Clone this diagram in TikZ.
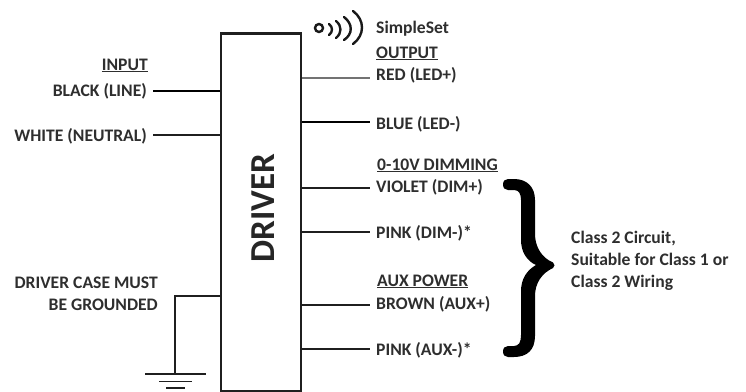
\documentclass[tikz,border=0pt]{standalone}
\usepackage{fontspec}
\setmainfont{Carlito}
\tikzset{
  x=1pt,y=-1pt,
  wire/.style={draw=black!88,line width=1.8pt},
  heavywire/.style={draw=black,line width=2.6pt},
  greywire/.style={draw=black!55,line width=1.8pt},
  lbl/.style={inner sep=0pt,text=black!82,font=\fontsize{17.6}{20}\selectfont\bfseries},
  lw/.style={lbl,anchor=base west},
  le/.style={lbl,anchor=base east},
  arcw/.style={draw=black!90,line width=2.4pt,line cap=round},
}
\begin{document}
\begin{tikzpicture}
\useasboundingbox (0,0) rectangle (746,391);
\fill[white] (0,0) rectangle (746,391);
\node[draw=black!88,line width=2.2pt,fill=white,minimum width=80pt,minimum height=358pt,inner sep=0pt] (box) at (261,212.5) {};
\node[inner sep=0pt,rotate=90,text=black!85,font=\fontsize{35}{38}\selectfont\bfseries] (drv) at (263,208) {DRIVER};
% left wires
\coordinate (fblack) at (153,91);
\coordinate (fwhite) at (153,135);
\draw[heavywire] (fblack) -- (fblack -| box.west);
\draw[wire] (fwhite) -- (fwhite -| box.west);
% right wires
\coordinate (fred) at (370,78);
\coordinate (fblue) at (370,122);
\coordinate (fvio) at (370,188);
\coordinate (fpd) at (370,232);
\coordinate (fbro) at (370,305);
\coordinate (fpa) at (370,349);
\draw[greywire] (fred -| box.east) -- (fred);
\draw[heavywire,line width=2.2pt] (fblue -| box.east) -- (fblue);
\draw[wire] (fvio -| box.east) -- (fvio);
\draw[wire] (fpd -| box.east) -- (fpd);
\draw[wire] (fbro -| box.east) -- (fbro);
\draw[wire] (fpa -| box.east) -- (fpa);
% ground
\coordinate (gnd) at (175,374);
\coordinate (gtap) at (175,296);
\coordinate (g1a) at (145,374); \coordinate (g1b) at (206,374);
\coordinate (g2a) at (159,381.5); \coordinate (g2b) at (192,381.5);
\coordinate (g3a) at (166,388); \coordinate (g3b) at (185,388);
\draw[wire] (gtap -| box.west) -- (gtap) -- (gnd);
\draw[wire] (g1a) -- (g1b);
\draw[wire] (g2a) -- (g2b);
\draw[wire] (g3a) -- (g3b);
% labels
\node[le] (ninput) at (148,70) {\underline{INPUT}};
\node[le] (nblack) at (147,96) {BLACK (LINE)};
\node[le] (nwhite) at (147,141) {WHITE (NEUTRAL)};
\node[le] (ncase) at (158,288) {DRIVER CASE MUST};
\node[le] (nground) at (158,310) {BE GROUNDED};
\node[lw] (nss) at (376,33) {SimpleSet};
\node[lw] (nout) at (376,58) {\underline{OUTPUT}};
\node[lw] (nred) at (376,80) {RED (LED+)};
\node[lw] (nblue) at (376,129) {BLUE (LED-)};
\node[lw] (ndim) at (377,170) {\underline{0-10V DIMMING}};
\node[lw] (nvio) at (376,192) {VIOLET (DIM+)};
\node[lw] (npd) at (376,238) {PINK (DIM-)*};
\node[lw] (naux) at (377,286) {\underline{AUX POWER}};
\node[lw] (nbro) at (376,309) {BROWN (AUX+)};
\node[lw] (npa) at (376,355) {PINK (AUX-)*};
\node[lw] (nc1) at (571,243) {Class 2 Circuit,};
\node[lw] (nc2) at (571,265) {Suitable for Class 1 or};
\node[lw] (nc3) at (571,287) {Class 2 Wiring};
% wireless icon
\draw[arcw] (319,28) circle (4pt);
\draw[arcw] (329,24) .. controls (333,27) and (333,32) .. (329,35);
\draw[arcw] (336,21) .. controls (342,26) and (342,33) .. (336,38);
\draw[arcw] (344,17) .. controls (353,24) and (353,34) .. (344,40);
\draw[arcw] (353,11) .. controls (365,20) and (365,35) .. (353,44);
% brace
\fill[black] (508,179) .. controls (505,179) and (503,181) .. (503,184.5)
  .. controls (503,188) and (505,190) .. (508,190)
  -- (514,190) .. controls (519,190) and (521,194) .. (521,200)
  -- (521,240) .. controls (521,252) and (527,261) .. (536,265)
  .. controls (527,270) and (521,279) .. (521,291)
  -- (521,335) .. controls (521,342) and (519,346) .. (514,346)
  -- (508,346) .. controls (505,346) and (503,348) .. (503,351.5)
  .. controls (503,355) and (505,357) .. (508,357)
  -- (514,357) .. controls (527,357) and (535,350) .. (535,336)
  -- (535,296) .. controls (535,283) and (542,273) .. (553,268)
  .. controls (555,266.5) and (555,264) .. (553,262.5)
  .. controls (542,258) and (535,247) .. (535,234)
  -- (535,200) .. controls (535,187) and (527,179) .. (514,179) -- cycle;
\end{tikzpicture}
\end{document}
